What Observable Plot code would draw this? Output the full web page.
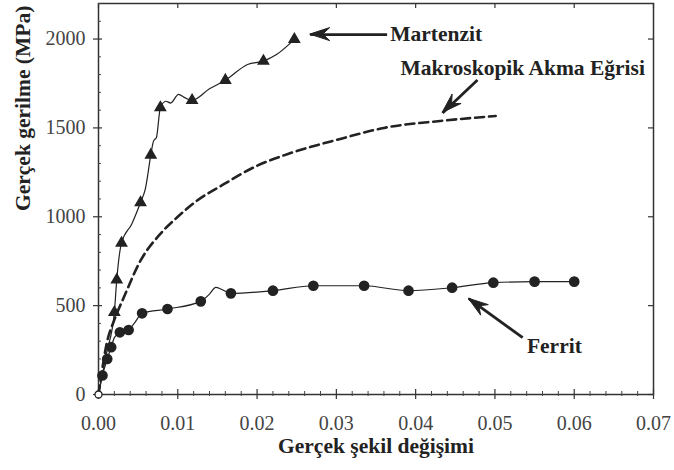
<!DOCTYPE html>
<html>
<head>
<meta charset="utf-8">
<script src="https://cdn.jsdelivr.net/npm/d3@7"></script>
<script src="https://cdn.jsdelivr.net/npm/@observablehq/plot@0.6"></script>
<style>
  html, body { margin: 0; padding: 0; background: #fff; }
  #chart svg { display: block; }
  #chart svg, #chart svg text { font-family: "Liberation Serif", "DejaVu Serif", serif !important; }
</style>
</head>
<body>
<div id="chart"></div>
<script>
// ---- Data ----
// Martensite curve (solid line, triangle markers where marked = 1)
const martStrain = [0, 0.0010, 0.0020, 0.0023, 0.0029, 0.0042, 0.0053, 0.0059, 0.0066, 0.0069, 0.0071, 0.0073, 0.0078, 0.0085, 0.0091, 0.0101, 0.0108, 0.0118, 0.0140, 0.0160, 0.0188, 0.0208, 0.0225, 0.0247];
const martStress = [0, 230, 462, 645, 852, 960, 1080, 1155, 1348, 1420, 1436, 1445, 1614, 1650, 1640, 1689, 1672, 1655, 1720, 1768, 1857, 1876, 1914, 1998];
const martMarked = [0, 0, 1, 1, 1, 0, 1, 0, 1, 0, 0, 0, 1, 0, 0, 0, 0, 1, 0, 1, 0, 1, 0, 1];

// Ferrite curve (solid line, circle markers where marked = 1)
const ferStrain = [0, 0.0005, 0.0011, 0.0016, 0.0020, 0.0027, 0.0038, 0.0045, 0.0055, 0.0087, 0.0129, 0.0140, 0.0148, 0.0155, 0.0167, 0.0220, 0.0271, 0.0335, 0.0391, 0.0446, 0.0498, 0.0550, 0.0600];
const ferStress = [0, 107, 200, 266, 320, 350, 363, 400, 457, 481, 524, 565, 603, 592, 569, 584, 612, 612, 584, 601, 629, 635, 635];
const ferMarked = [0, 1, 1, 1, 0, 1, 1, 0, 1, 1, 1, 0, 0, 0, 1, 1, 1, 1, 1, 1, 1, 1, 1];

// Macroscopic flow curve (dashed)
const macroStrain = [0, 0.0005, 0.0010, 0.0020, 0.0032, 0.0053, 0.0078, 0.0099, 0.0124, 0.0158, 0.0200, 0.0238, 0.0305, 0.0360, 0.0431, 0.0501];
const macroStress = [0, 150, 280, 420, 547, 753, 904, 996, 1090, 1183, 1287, 1352, 1438, 1500, 1539, 1567];

// Tick values
const xMajor = [0, 0.01, 0.02, 0.03, 0.04, 0.05, 0.06, 0.07];
const xMinor = d3.range(0, 36).filter(i => i % 5 !== 0).map(i => i * 0.002);
const yMajor = [0, 500, 1000, 1500, 2000];
const yMinor = d3.range(0, 23).filter(i => i % 5 !== 0).map(i => i * 100);

// Annotation labels and arrows (data units)
const labelText = ["Martenzit", "Makroskopik Akma Eğrisi", "Ferrit"];
const labelX = [0.0368, 0.0535, 0.0575];
const labelY = [2025, 1837, 275];
const arrowX1 = [0.0364, 0.0478, 0.0535];
const arrowY1 = [2025, 1770, 320];
const arrowX2 = [0.0267, 0.0434, 0.0467];
const arrowY2 = [2025, 1584, 539];

const xTitle = "Gerçek şekil değişimi";
const yTitle = "Gerçek gerilme (MPa)";

// ---- Build tables ----
const mart = martStrain.map((x, i) => ({x, y: martStress[i], m: martMarked[i]}));
const fer = ferStrain.map((x, i) => ({x, y: ferStress[i], m: ferMarked[i]}));
const macro = macroStrain.map((x, i) => ({x, y: macroStress[i]}));
const labels = labelText.map((t, i) => ({t, x: labelX[i], y: labelY[i]}));
const arrows = arrowX1.map((x1, i) => ({x1, y1: arrowY1[i], x2: arrowX2[i], y2: arrowY2[i]}));

const W = 674, H = 470;
const mL = 98, mR = 21, mT = 3, mB = 76;
const fw = W - mL - mR, fh = H - mT - mB;
const ink = "#222";
const serif = "'Liberation Serif', 'DejaVu Serif', serif";

// Custom mark: filled arrow heads at (x2, y2), positioned through Plot's scales
function arrowHeads(index, scales) {
  const g = d3.create("svg:g");
  const L = 20, Wd = 6.5;
  for (const a of arrows) {
    const tx = scales.x(a.x2), ty = scales.y(a.y2);
    const sx = scales.x(a.x1), sy = scales.y(a.y1);
    const ang = Math.atan2(ty - sy, tx - sx);
    const bx = tx - L * Math.cos(ang), by = ty - L * Math.sin(ang);
    const px = -Math.sin(ang) * Wd, py = Math.cos(ang) * Wd;
    g.append("path")
      .attr("d", `M${tx},${ty}L${bx + px},${by + py}L${bx + 0.35 * L * Math.cos(ang)},${by + 0.35 * L * Math.sin(ang)}L${bx - px},${by - py}Z`)
      .attr("fill", ink)
      .attr("stroke", ink)
      .attr("stroke-width", 1)
      .attr("stroke-linejoin", "round");
  }
  return g.node();
}

const chart = Plot.plot({
  width: W,
  height: H,
  marginLeft: mL,
  marginRight: mR,
  marginTop: mT,
  marginBottom: mB,
  style: {fontFamily: serif, background: "#fff", color: ink},
  x: {domain: [0, 0.07]},
  y: {domain: [0, 2200]},
  marks: [
    Plot.frame({stroke: "#333", strokeWidth: 1.5}),
    // ticks: bottom (crossing), top (inside), left (crossing majors, inside minors), right (inside)
    Plot.tickX(xMajor, {x: d => d, insetTop: fh - 5, insetBottom: -5, stroke: "#333", strokeWidth: 1.2}),
    Plot.tickX(xMinor, {x: d => d, insetTop: fh - 3, insetBottom: -2, stroke: "#444", strokeWidth: 1}),
    Plot.tickX(xMajor, {x: d => d, insetBottom: fh - 5, stroke: "#333", strokeWidth: 1.2}),
    Plot.tickY(yMajor, {y: d => d, insetRight: fw - 4, insetLeft: -5, stroke: "#333", strokeWidth: 1.2}),
    Plot.tickY(yMinor, {y: d => d, insetRight: fw - 3, stroke: "#444", strokeWidth: 1}),
    Plot.tickY(yMajor, {y: d => d, insetLeft: fw - 5, stroke: "#333", strokeWidth: 1.2}),
    Plot.axisX({ticks: xMajor, tickFormat: d3.format(".2f"), tickSize: 0, tickPadding: 21, fontSize: 20, fill: "#444", label: null}),
    Plot.axisY({ticks: yMajor, tickFormat: d3.format("d"), tickSize: 0, tickPadding: 13, fontSize: 20, fill: "#444", label: null}),
    // curves
    Plot.line(macro, {x: "x", y: "y", stroke: ink, strokeWidth: 2.6, strokeDasharray: "9,5", curve: "monotone-x"}),
    Plot.line(mart, {x: "x", y: "y", stroke: ink, strokeWidth: 1.2, curve: "monotone-x"}),
    Plot.line(fer, {x: "x", y: "y", stroke: ink, strokeWidth: 1.2, curve: "monotone-x"}),
    Plot.dot(mart.filter(d => d.m === 1), {x: "x", y: "y", symbol: "triangle", r: 3.8, fill: ink, stroke: ink}),
    Plot.dot(fer.filter(d => d.m === 1), {x: "x", y: "y", symbol: "circle", r: 4.6, fill: ink, stroke: ink}),
    Plot.dot(fer.slice(0, 1), {x: "x", y: "y", r: 3.5, fill: "#fff", stroke: ink, strokeWidth: 1.3}),
    // annotations
    Plot.link(arrows, {x1: "x1", y1: "y1", x2: "x2", y2: "y2", stroke: ink, strokeWidth: 2.8}),
    arrowHeads,
    Plot.text(labels.slice(0, 1), {x: "x", y: "y", text: "t", textAnchor: "start", fontSize: 21.5, fontWeight: "bold", fill: ink}),
    Plot.text(labels.slice(1), {x: "x", y: "y", text: "t", textAnchor: "middle", fontSize: 21.5, fontWeight: "bold", fill: ink}),
    // axis titles
    Plot.text([xTitle], {frameAnchor: "bottom", dy: 58, fontSize: 21.5, fontWeight: "bold", fill: ink}),
    Plot.text([yTitle], {frameAnchor: "left", rotate: -90, dx: -75, dy: 12, fontSize: 21.5, fontWeight: "bold", fill: ink})
  ]
});
document.getElementById("chart").appendChild(chart);
</script>
</body>
</html>
